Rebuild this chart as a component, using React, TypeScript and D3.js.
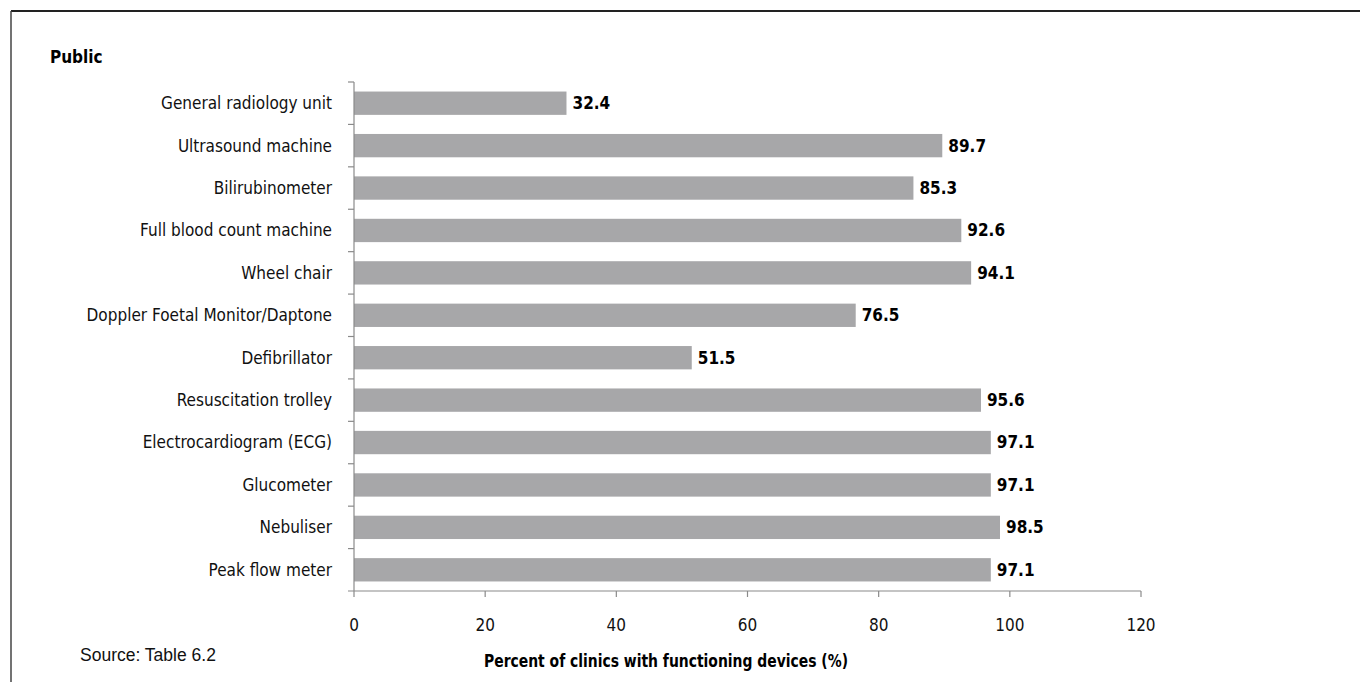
import React from "react";
import * as d3 from "d3";

const categories = [
  "General radiology unit",
  "Ultrasound machine",
  "Bilirubinometer",
  "Full blood count machine",
  "Wheel chair",
  "Doppler Foetal Monitor/Daptone",
  "Defibrillator",
  "Resuscitation trolley",
  "Electrocardiogram (ECG)",
  "Glucometer",
  "Nebuliser",
  "Peak flow meter",
];
const values = [32.4, 89.7, 85.3, 92.6, 94.1, 76.5, 51.5, 95.6, 97.1, 97.1, 98.5, 97.1];
const xTicks = [0, 20, 40, 60, 80, 100, 120];

const W = 1360;
const H = 682;
const left = 354;
const right = 1141;
const top = 82;
const bottom = 591;
const narrow = "'Liberation Sans Narrow', 'DejaVu Sans Condensed', 'Arial Narrow', sans-serif";

export default function App() {
  const x = d3.scaleLinear().domain([0, 120]).range([left, right]);
  const y = d3.scaleBand<string>().domain(categories).range([top, bottom]).paddingInner(0.45).paddingOuter(0.225);
  const yb = d3.scaleBand<string>().domain(categories).range([top, bottom]);
  const axisColor = "#8a8a8a";
  return (
    <svg width={W} height={H} style={{ position: "absolute", left: 0, top: 0, background: "#fff" }}>
      {/* frame */}
      <line x1={11} y1={11} x2={W} y2={11} stroke="#222" strokeWidth={2} />
      <line x1={11} y1={11} x2={11} y2={H} stroke="#444" strokeWidth={1.5} />
      <text x={50} y={63} fontFamily={narrow} fontWeight="bold" fontSize={17} fill="#000">Public</text>
      {/* bars */}
      {categories.map((c, i) => (
        <g key={c}>
          <rect x={x(0)} y={y(c)} width={x(values[i]) - x(0)} height={y.bandwidth()} fill="#a7a7a9" />
          <text x={x(values[i]) + 6} y={(y(c) as number) + y.bandwidth() / 2} dy="0.35em" fontFamily={narrow} fontWeight="bold" fontSize={17} fill="#000">
            {values[i].toFixed(1)}
          </text>
          <text x={332} y={(yb(c) as number) + yb.bandwidth() / 2} dy="0.35em" textAnchor="end" fontFamily={narrow} fontSize={17} fill="#111">
            {c}
          </text>
        </g>
      ))}
      {/* y axis */}
      <line x1={left} y1={top} x2={left} y2={bottom} stroke={axisColor} strokeWidth={1.2} />
      {categories.map((c) => (
        <line key={"t" + c} x1={left - 6} x2={left} y1={yb(c) as number} y2={yb(c) as number} stroke={axisColor} strokeWidth={1.2} />
      ))}
      {/* x axis */}
      <line x1={left - 6} y1={bottom} x2={right} y2={bottom} stroke={axisColor} strokeWidth={1.2} />
      {xTicks.map((t) => (
        <g key={"x" + t}>
          <line x1={x(t)} x2={x(t)} y1={bottom} y2={bottom + 6} stroke={axisColor} strokeWidth={1.2} />
          <text x={x(t)} y={625} dy="0.35em" textAnchor="middle" fontFamily={narrow} fontSize={17} fill="#111">{t}</text>
        </g>
      ))}
      <text x={666} y={661} dy="0.35em" textAnchor="middle" textLength={364} lengthAdjust="spacingAndGlyphs" fontFamily={narrow} fontWeight="bold" fontSize={17} fill="#000">
        Percent of clinics with functioning devices (%)
      </text>
      <text x={80} y={655} dy="0.35em" fontFamily="'Liberation Sans', Arial, sans-serif" fontSize={17.5} fill="#111">
        Source: Table 6.2
      </text>
    </svg>
  );
}
